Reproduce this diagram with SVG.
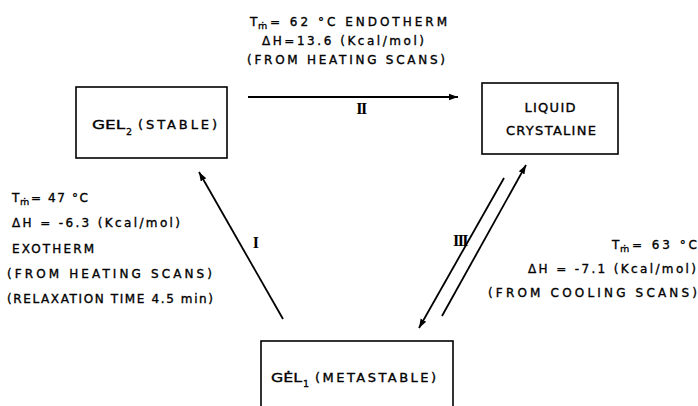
<svg xmlns="http://www.w3.org/2000/svg" width="698" height="406" viewBox="0 0 698 406">
<defs>
<marker id="ah" markerUnits="userSpaceOnUse" markerWidth="10" markerHeight="8" refX="9" refY="4" orient="auto">
<path d="M0,0.8 L9,4 L0,7.2 Z" fill="#000"/>
</marker>
<style>
.box{fill:none;stroke:#000;stroke-width:1.6}
.con{fill:none;stroke:#000;stroke-width:1.8}
.t{font-family:"DejaVu Sans","Liberation Sans",sans-serif;font-size:12px;fill:#000;stroke:#000;stroke-width:0.35}
.n{font-family:"DejaVu Sans","Liberation Sans",sans-serif;font-size:13px;fill:#000;stroke:#000;stroke-width:0.35}
.sub{font-family:"DejaVu Sans","Liberation Sans",sans-serif;font-size:9.5px;fill:#000;stroke:#000;stroke-width:0.3}
.rn{font-family:"Liberation Serif",serif;font-size:16px;font-weight:bold;fill:#000;text-anchor:middle;letter-spacing:-1.5px}
</style>
</defs>
<rect width="698" height="406" fill="#fff"/>

<g id="gel2">
<rect class="box" x="76" y="87" width="151" height="71"/>
<text class="n" x="92" y="129" font-size="14" textLength="33" lengthAdjust="spacingAndGlyphs">GEL</text>
<text class="sub" x="126" y="135" font-size="11">2</text>
<text class="n" x="138" y="129" font-size="14" textLength="79" lengthAdjust="spacing">(STABLE)</text>
</g>

<g id="liquid">
<rect class="box" x="482" y="83" width="136" height="71"/>
<text class="n" x="550" y="112" text-anchor="middle" textLength="51" lengthAdjust="spacing">LIQUID</text>
<text class="n" x="551" y="135" text-anchor="middle" textLength="90" lengthAdjust="spacing">CRYSTALINE</text>
</g>

<g id="gel1">
<rect class="box" x="261" y="341" width="192" height="90"/>
<text class="n" x="271" y="382" textLength="31" lengthAdjust="spacingAndGlyphs">GĖL</text>
<text class="sub" x="303" y="387" font-size="10.5">1</text>
<text class="n" x="315" y="382" textLength="121" lengthAdjust="spacing">(METASTABLE)</text>
</g>

<g id="connectors">
<line class="con" x1="248" y1="97" x2="458" y2="97" marker-end="url(#ah)"/>
<line class="con" x1="283" y1="319" x2="199" y2="172" marker-end="url(#ah)"/>
<line class="con" x1="442" y1="316" x2="526" y2="165" marker-end="url(#ah)"/>
<line class="con" x1="504" y1="178" x2="419" y2="328" marker-end="url(#ah)"/>
</g>

<g id="labels">
<text class="rn" x="361" y="114">II</text>
<text class="rn" x="255" y="248">I</text>
<text class="rn" x="460" y="246">III</text>

<text class="t" x="250" y="26">T</text>
<text class="sub" x="258" y="29">ṁ</text>
<text class="t" x="270" y="26" textLength="177" lengthAdjust="spacing">= 62 °C ENDOTHERM</text>
<text class="t" x="262" y="45" textLength="162" lengthAdjust="spacing">ΔH=13.6 (Kcal/mol)</text>
<text class="t" x="247" y="64" textLength="198" lengthAdjust="spacing">(FROM HEATING SCANS)</text>

<text class="t" x="12" y="202">T</text>
<text class="sub" x="20" y="205">ṁ</text>
<text class="t" x="31" y="202" textLength="57" lengthAdjust="spacing">= 47 °C</text>
<text class="t" x="12" y="227" textLength="168" lengthAdjust="spacing">ΔH = -6.3 (Kcal/mol)</text>
<text class="t" x="12" y="253" textLength="82" lengthAdjust="spacing">EXOTHERM</text>
<text class="t" x="7" y="278" textLength="205" lengthAdjust="spacing">(FROM HEATING SCANS)</text>
<text class="t" x="7" y="303" textLength="206" lengthAdjust="spacing">(RELAXATION TIME 4.5 min)</text>

<text class="t" x="612" y="249">T</text>
<text class="sub" x="620" y="252">ṁ</text>
<text class="t" x="632" y="249" textLength="65" lengthAdjust="spacing">= 63 °C</text>
<text class="t" x="528" y="273" textLength="168" lengthAdjust="spacing">ΔH = -7.1 (Kcal/mol)</text>
<text class="t" x="488" y="297" textLength="209" lengthAdjust="spacing">(FROM COOLING SCANS)</text>
</g>
</svg>
